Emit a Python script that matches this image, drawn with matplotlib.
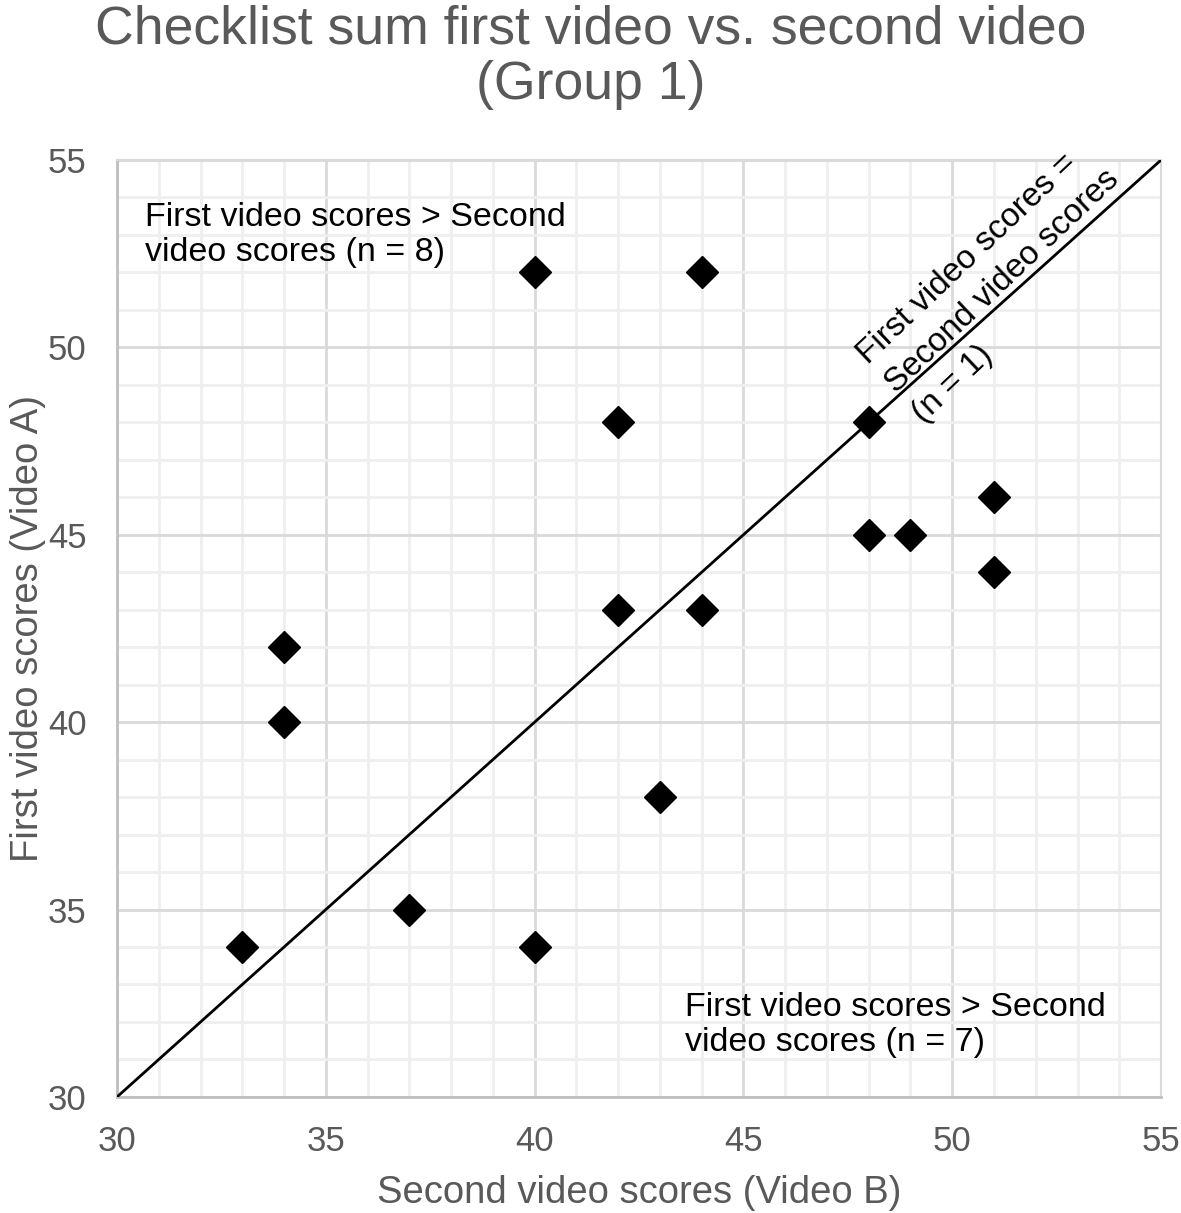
import matplotlib.pyplot as plt
import numpy as np

plt.rcParams['font.family'] = ['Liberation Sans', 'DejaVu Sans']

# Puntuaciones: segundo video (x) frente a primer video (y)
second_video = [33, 34, 34, 37, 40, 40, 42, 42, 43, 44, 44, 48, 48, 49, 51, 51]
first_video = [34, 42, 40, 35, 52, 34, 48, 43, 38, 52, 43, 48, 45, 45, 46, 44]
axis_limits = [30, 55]
tick_values = [30, 35, 40, 45, 50, 55]

fig = plt.figure(figsize=(11.81, 12.13), dpi=100)
ax = fig.add_axes([0.0991, 0.0957, 0.8840, 0.7724])

# cuadricula: mayor cada 5, menor cada 1
ax.set_xticks(tick_values)
ax.set_yticks(tick_values)
ax.set_xticks(np.arange(30, 56, 1), minor=True)
ax.set_yticks(np.arange(30, 56, 1), minor=True)
ax.grid(which='major', color='#d9d9d9', linewidth=2)
ax.grid(which='minor', color='#efefef', linewidth=2)
ax.set_axisbelow(True)
ax.tick_params(which='both', length=0)
ax.tick_params(axis='both', labelsize=25, labelcolor='#595959')
ax.tick_params(axis='x', pad=20)
ax.tick_params(axis='y', pad=22)

for side in ['left', 'bottom']:
    ax.spines[side].set_color('#bfbfbf')
    ax.spines[side].set_linewidth(2)
for side in ['top', 'right']:
    ax.spines[side].set_color('#d9d9d9')
    ax.spines[side].set_linewidth(1.5)

# linea de igualdad
ax.plot(axis_limits, axis_limits, color='black', linewidth=2, zorder=3)

ax.plot(second_video, first_video, linestyle='none', marker='D',
        markersize=16, color='black', zorder=4)

ax.set_xlim(axis_limits)
ax.set_ylim(axis_limits)

ax.set_xlabel('Second video scores (Video B)', fontsize=27.5, color='#595959')
ax.set_ylabel('First video scores (Video A)', fontsize=27.5, color='#595959')
ax.xaxis.set_label_coords(0.5, -0.083)
ax.yaxis.set_label_coords(-0.068, 0.5)
fig.suptitle('Checklist sum first video vs. second video\n(Group 1)',
             fontsize=38.5, color='#595959', y=0.996, linespacing=1.12)

ax.text(30.67, 53.0, 'First video scores > Second\nvideo scores (n = 8)',
        fontsize=24.5, va='center', ha='left', linespacing=1.17)
ax.text(43.6, 31.92, 'First video scores > Second\nvideo scores (n = 7)',
        fontsize=24.5, va='center', ha='left', linespacing=1.17)
ax.text(51.2, 51.75, 'First video scores =\nSecond video scores\n(n = 1)',
        fontsize=24, va='center', ha='center', multialignment='left',
        rotation=43.5, rotation_mode='anchor', linespacing=1.38)

plt.savefig('out.png', dpi=100)
